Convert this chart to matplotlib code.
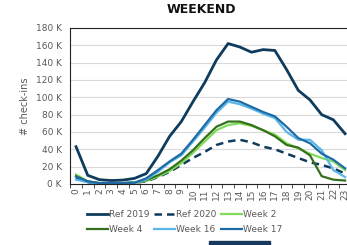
import matplotlib
matplotlib.use("Agg")
import matplotlib.pyplot as plt
from matplotlib.patches import Rectangle

hours = list(range(24))

ref_2019 = [43, 10, 5, 4, 4.5, 6.5, 12, 32, 55, 72, 95, 117, 143, 162, 158, 152,
            155, 154, 132, 108, 97, 80, 74, 58]
ref_2020 = [7, 2, 1, 1, 1, 1.5, 3, 8, 14, 22, 30, 37, 45, 49, 51, 48,
            43, 40, 35, 30, 25, 22, 18, 12]
week_2 = [11, 3, 1, 1, 1, 1.5, 3.5, 8.5, 15, 24, 36, 49, 62, 68, 70, 67,
          62, 57, 47, 41, 35, 30, 26, 16]
week_4 = [9, 3, 1, 1, 1, 1.5, 4.5, 10, 17, 27, 39, 53, 66, 72, 72, 68,
          62, 55, 45, 42, 33, 9, 5, 4]
week_16 = [5, 2, 1, 1, 1, 1.5, 5, 14, 25, 33, 49, 65, 82, 95, 92, 87,
           81, 76, 60, 51, 51, 39, 16, 8]
week_17 = [8.5, 3, 1, 1, 1, 1.5, 6.5, 16, 26, 35, 51, 68, 85, 98, 95, 89,
           83, 78, 66, 53, 47, 35, 28, 18]

series_names = ["Ref 2019", "Ref 2020", "Week 2", "Week 4", "Week 16", "Week 17"]
y_ticks = [0, 20, 40, 60, 80, 100, 120, 140, 160, 180]

navy = "#0f3b5c"
gray = "#595959"

fig = plt.figure(figsize=(3.47, 2.45), dpi=100)
ax = fig.add_axes([0.2023, 0.249, 0.809, 0.637])

lines = []
lines += ax.plot(hours, [v * 1000 for v in ref_2019], color=navy, lw=2.0)
lines += ax.plot(hours, [v * 1000 for v in ref_2020], color=navy, lw=1.8, ls=(0, (3, 2)))
lines += ax.plot(hours, [v * 1000 for v in week_2], color="#7fdc5a", lw=1.6)
lines += ax.plot(hours, [v * 1000 for v in week_4], color="#35701c", lw=1.6)
lines += ax.plot(hours, [v * 1000 for v in week_16], color="#5ab6e8", lw=1.6)
lines += ax.plot(hours, [v * 1000 for v in week_17], color="#1e6aa5", lw=1.6)

ax.set_xlim(-0.5, 23.5)
ax.set_ylim(0, 180000)
ax.set_yticks([v * 1000 for v in y_ticks])
ax.set_yticklabels([f"{v} K" for v in y_ticks], color=gray, fontsize=6.5)
ax.set_xticks(hours)
ax.set_xticklabels([str(h) for h in hours], rotation=90, color=gray, fontsize=6.5)
ax.set_xticks([h - 0.5 for h in hours] + [23.5], minor=True)
ax.tick_params(axis="x", which="major", length=0, pad=3)
ax.tick_params(axis="x", which="minor", length=3, color="#333333")
ax.tick_params(axis="y", length=0, pad=6)
ax.grid(axis="y", color="#d9d9d9", lw=0.8)
ax.set_axisbelow(True)
for side in ["left", "bottom", "top", "right"]:
    ax.spines[side].set_color("#222222")
    ax.spines[side].set_linewidth(0.8)

ax.set_ylabel("# check-ins", color=gray, fontsize=7, labelpad=4)
fig.text(0.58, 0.962, "WEEKEND", ha="center", va="center", fontsize=9,
         fontweight="bold", color="#111111")

# legend filled row by row (matplotlib fills columns first)
order = [0, 3, 1, 4, 2, 5]
fig.legend([lines[i] for i in order], [series_names[i] for i in order],
           loc="upper center", bbox_to_anchor=(0.532, 0.17), ncol=3,
           frameon=False, fontsize=6.5, handlelength=2.4, handletextpad=0.1,
           columnspacing=0.45, labelspacing=0.75, labelcolor=gray,
           borderpad=0.2)

fig.patches.append(Rectangle((0.602, 0.0), 0.176, 0.016, transform=fig.transFigure,
                             color="#16395c", zorder=5))

fig.savefig("out.png", dpi=100)
